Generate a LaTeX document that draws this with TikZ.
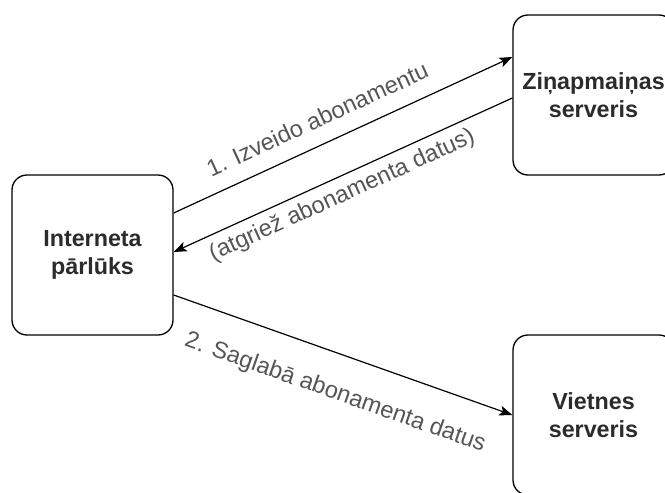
\documentclass[tikz,border=0pt]{standalone}
\usepackage{fontspec}
\setmainfont{Liberation Sans}
\usetikzlibrary{positioning,arrows.meta}
\definecolor{boxtext}{HTML}{2B2B2B}
\definecolor{edgetext}{HTML}{555555}

\begin{document}
\begin{tikzpicture}[->,>={Stealth[length=13pt,width=10pt,inset=3pt]},x=1pt,y=-1pt,
      line width=1.2pt,
      box/.style={draw,rounded corners=15pt,minimum width=161pt,minimum height=160pt,
        align=center,text=boxtext,line width=1.3pt,
        font=\fontsize{23.3}{27.6}\selectfont\bfseries},
      lbl/.style={sloped,text=edgetext,inner sep=4pt,
        font=\fontsize{23.6}{28}\selectfont}]
    \useasboundingbox (0,0) rectangle (665,493);
    \node[box] (pb) at (92.5,255) {Interneta\\pārlūks};
    \node[box] (zs) at (593.5,95) {Ziņapmaiņas\\serveris};
    \node[box] (vs) at (593.5,415) {Vietnes\\serveris};
    \path ([yshift=42pt]pb.east) edge node[lbl,above=12pt,pos=0.455] {1. Izveido abonamentu} ([yshift=38pt]zs.west)
          ([yshift=-3pt]zs.west) edge node[lbl,below=3pt,pos=0.525] {(atgriež abonamenta datus)} ([yshift=3pt]pb.east)
          ([yshift=-40pt]pb.east) edge node[lbl,below=23pt,pos=0.515] {2. Saglabā abonamenta datus} (vs.west);
  \end{tikzpicture}
\end{document}
